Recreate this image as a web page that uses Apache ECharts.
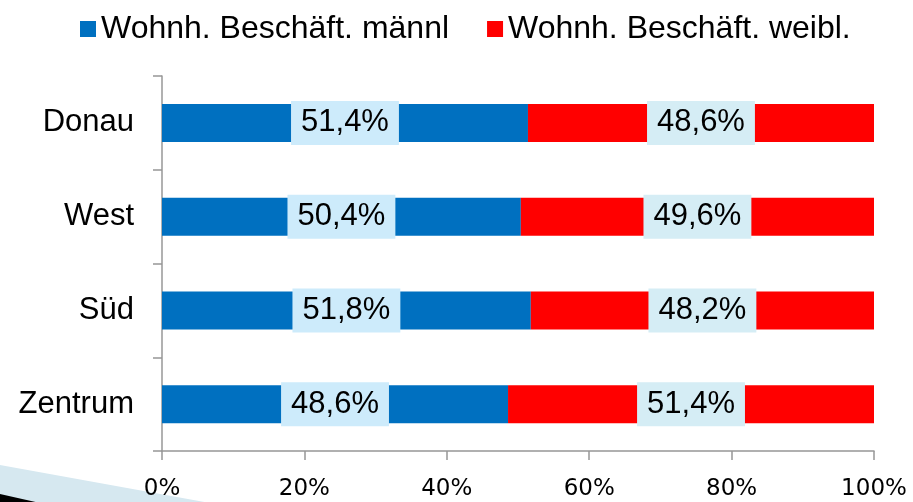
<!DOCTYPE html>
<html>
<head>
<meta charset="utf-8">
<script src="https://cdn.jsdelivr.net/npm/echarts@6/dist/echarts.min.js"></script>
<style>
  html, body { margin: 0; padding: 0; background: #fff; }
  #main { width: 913px; height: 502px; }
</style>
</head>
<body>
<div id="main"></div>
<script>
// Bezirke (von oben nach unten)
var categories = ['Donau', 'West', 'Süd', 'Zentrum'];
var maennl = [51.4, 50.4, 51.8, 48.6];
var weibl = [48.6, 49.6, 48.2, 51.4];
var seriesNames = ['Wohnh. Beschäft. männl', 'Wohnh. Beschäft. weibl.'];
var xTicks = [0, 20, 40, 60, 80, 100];

var chart = echarts.init(document.getElementById('main'), null, { renderer: 'canvas' });

function fmt(p) {
  return p.value.toFixed(1).replace('.', ',') + '%';
}

function valueLabel(bg) {
  return {
    show: true,
    position: 'inside',
    formatter: fmt,
    color: '#000',
    fontFamily: 'Liberation Sans, Arial, sans-serif',
    fontSize: 31,
    backgroundColor: bg,
    padding: [7, 10, 6, 10]
  };
}

var option = {
  animation: false,
  backgroundColor: '#fff',
  legend: {
    top: 13,
    left: 80,
    padding: 0,
    itemWidth: 16,
    itemHeight: 16,
    itemGap: 38,
    icon: 'rect',
    textStyle: { fontFamily: 'Liberation Sans, Arial, sans-serif', fontSize: 32, color: '#000' },
    data: seriesNames
  },
  grid: { left: 162, right: 39, top: 76, bottom: 51 },
  xAxis: {
    type: 'value',
    min: 0,
    max: 100,
    interval: 20,
    axisLine: { show: true, lineStyle: { color: '#979797', width: 1.5 } },
    axisTick: { show: true, length: 9, lineStyle: { color: '#979797', width: 1.5 } },
    splitLine: { show: false },
    axisLabel: {
      margin: 27,
      color: '#000',
      fontFamily: 'DejaVu Sans, sans-serif',
      fontSize: 23,
      formatter: function (v) { return xTicks.indexOf(v) >= 0 ? v + '%' : ''; }
    }
  },
  yAxis: {
    type: 'category',
    inverse: true,
    data: categories,
    axisLine: { show: true, lineStyle: { color: '#979797', width: 1.5 } },
    axisTick: { show: true, length: 9, lineStyle: { color: '#979797', width: 1.5 } },
    axisLabel: {
      margin: 28,
      color: '#000',
      fontFamily: 'Liberation Sans, Arial, sans-serif',
      fontSize: 31
    }
  },
  series: [
    {
      name: seriesNames[0],
      type: 'bar',
      stack: 'gesamt',
      barWidth: 38,
      itemStyle: { color: '#0070C0' },
      label: valueLabel('#CDEBFB'),
      data: maennl
    },
    {
      name: seriesNames[1],
      type: 'bar',
      stack: 'gesamt',
      barWidth: 38,
      itemStyle: { color: '#FF0000' },
      label: valueLabel('#D5EDF5'),
      data: weibl
    }
  ],
  graphic: [
    {
      type: 'polygon',
      z: -1,
      shape: { points: [[0, 465], [210, 503], [0, 503]] },
      style: { fill: '#D6E8F0' }
    },
    {
      type: 'polygon',
      z: -1,
      shape: { points: [[0, 494], [40, 503], [0, 503]] },
      style: { fill: '#000' }
    }
  ]
};

chart.setOption(option);
</script>
</body>
</html>
